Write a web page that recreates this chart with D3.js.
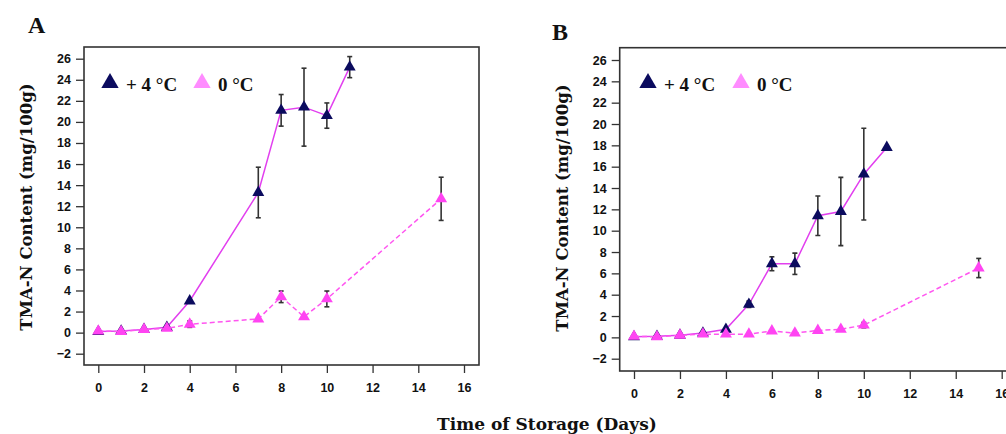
<!DOCTYPE html>
<html>
<head>
<meta charset="utf-8">
<script src="https://cdn.jsdelivr.net/npm/d3@7"></script>
<style>
  html, body { margin: 0; padding: 0; background: #fff; }
  svg { display: block; }
</style>
</head>
<body>
<svg id="chart" width="1006" height="434"></svg>
<script>
// ---------- data ----------
const xTicks = [0, 2, 4, 6, 8, 10, 12, 14, 16];
const yTicks = [-2, 0, 2, 4, 6, 8, 10, 12, 14, 16, 18, 20, 22, 24, 26];
const legendLabels = ["+ 4 °C", "0 °C"];

// Panel A
const daysA4 = [0, 1, 2, 3, 4, 7, 8, 9, 10, 11];
const valsA4 = [0.1, 0.15, 0.3, 0.5, 3.0, 13.3, 21.1, 21.4, 20.6, 25.2];
const errA4  = [0, 0, 0, 0, 0, 2.4, 1.5, 3.7, 1.2, 1.0];
const daysA0 = [0, 1, 2, 3, 4, 7, 8, 9, 10, 15];
const valsA0 = [0.15, 0.1, 0.3, 0.4, 0.8, 1.3, 3.4, 1.5, 3.2, 12.7];
const errA0  = [0, 0, 0, 0, 0.3, 0, 0.55, 0, 0.75, 2.05];

// Panel B
const daysB4 = [0, 1, 2, 3, 4, 5, 6, 7, 8, 9, 10, 11];
const valsB4 = [0.05, 0.1, 0.2, 0.4, 0.75, 3.1, 6.9, 6.9, 11.4, 11.8, 15.3, 17.8];
const errB4  = [0, 0, 0, 0, 0, 0.3, 0.65, 1.0, 1.85, 3.2, 4.3, 0];
const daysB0 = [0, 1, 2, 3, 4, 5, 6, 7, 8, 9, 10, 15];
const valsB0 = [0.1, 0.05, 0.2, 0.3, 0.3, 0.3, 0.6, 0.4, 0.65, 0.75, 1.15, 6.5];
const errB0  = [0, 0, 0, 0, 0, 0, 0, 0, 0, 0, 0.25, 0.9];

// ---------- styles ----------
const NAVY = "#0b0b5e";
const PINK = "#ff44f2";
const LEGEND_PINK = "#ff8cff";
const LINE4 = "#e23fef";
const LINE0 = "#ff55f0";
const ERR = "#333333";
const TITLE_FONT = "DejaVu Serif, Liberation Serif, serif";

const svg = d3.select("#chart");

function zip(days, vals, errs) {
  return days.map((d, i) => ({ x: d, y: vals[i], e: errs[i] }));
}

function drawPanel(cfg) {
  const g = svg.append("g");
  const x = d3.scaleLinear().domain([0, 16]).range([cfg.x0, cfg.x16]);
  const y = d3.scaleLinear().domain([-2, 26]).range([cfg.yM2, cfg.y26]);

  const clipId = "clip" + cfg.id;
  svg.append("clipPath").attr("id", clipId)
    .append("rect").attr("x", cfg.boxL).attr("y", cfg.boxT)
    .attr("width", cfg.boxR - cfg.boxL).attr("height", cfg.boxB - cfg.boxT);

  g.append("rect")
    .attr("x", cfg.boxL).attr("y", cfg.boxT)
    .attr("width", cfg.boxR - cfg.boxL).attr("height", cfg.boxB - cfg.boxT)
    .attr("fill", "none").attr("stroke", "#333").attr("stroke-width", 1.6);

  const yAxis = d3.axisLeft(y).tickValues(yTicks).tickSize(8).tickPadding(5).tickFormat(d3.format("d"));
  const ya = g.append("g").attr("transform", `translate(${cfg.boxL},0)`).call(yAxis);
  ya.select(".domain").remove();
  ya.selectAll("line").attr("stroke", "#333").attr("stroke-width", 1.3);
  ya.selectAll("text").attr("font-family", "Liberation Sans, Arial, sans-serif")
    .attr("font-weight", "bold").attr("font-size", 12.5).attr("fill", "#111");

  const xAxis = d3.axisBottom(x).tickValues(xTicks).tickSize(8).tickPadding(10).tickFormat(d3.format("d"));
  const xa = g.append("g").attr("transform", `translate(0,${cfg.boxB})`).call(xAxis);
  xa.select(".domain").remove();
  xa.selectAll("line").attr("stroke", "#333").attr("stroke-width", 1.3);
  xa.selectAll("text").attr("font-family", "Liberation Sans, Arial, sans-serif")
    .attr("font-weight", "bold").attr("font-size", 12.5).attr("fill", "#111");

  g.append("text")
    .attr("transform", `translate(${cfg.ytX},${cfg.ytY}) rotate(-90)`)
    .attr("text-anchor", "middle").attr("dominant-baseline", "central")
    .attr("font-family", TITLE_FONT)
    .attr("font-weight", "bold").attr("font-size", 16.5).attr("fill", "#111")
    .text("TMA-N Content (mg/100g)");

  g.append("text")
    .attr("x", cfg.letterX).attr("y", cfg.letterY)
    .attr("font-family", "Liberation Serif, Times New Roman, serif")
    .attr("font-weight", "bold").attr("font-size", 24).attr("fill", "#111")
    .text(cfg.letter);

  const plot = g.append("g").attr("clip-path", `url(#${clipId})`);
  const line = d3.line().x(d => x(d.x)).y(d => y(d.y));
  const tri = d3.symbol().type(d3.symbolTriangle).size(62);

  function series(data, color, lineColor, dashed) {
    plot.append("path").datum(data).attr("d", line)
      .attr("fill", "none").attr("stroke", lineColor).attr("stroke-width", 1.5)
      .attr("stroke-dasharray", dashed ? "5,3" : null);
    const eb = plot.append("g").selectAll("g").data(data.filter(d => d.e > 0)).join("g");
    eb.append("line").attr("x1", d => x(d.x)).attr("x2", d => x(d.x))
      .attr("y1", d => y(d.y - d.e)).attr("y2", d => y(d.y + d.e))
      .attr("stroke", ERR).attr("stroke-width", 1.6);
    eb.append("line").attr("x1", d => x(d.x) - 2.5).attr("x2", d => x(d.x) + 2.5)
      .attr("y1", d => y(d.y + d.e)).attr("y2", d => y(d.y + d.e))
      .attr("stroke", ERR).attr("stroke-width", 1.6);
    eb.append("line").attr("x1", d => x(d.x) - 2.5).attr("x2", d => x(d.x) + 2.5)
      .attr("y1", d => y(d.y - d.e)).attr("y2", d => y(d.y - d.e))
      .attr("stroke", ERR).attr("stroke-width", 1.6);
    plot.append("g").selectAll("path").data(data).join("path")
      .attr("d", tri)
      .attr("transform", d => `translate(${x(d.x)},${y(d.y)})`)
      .attr("fill", color);
  }
  series(cfg.s4, NAVY, LINE4, false);
  series(cfg.s0, PINK, LINE0, true);

  const legTri = d3.symbol().type(d3.symbolTriangle).size(130);
  const leg = g.append("g");
  const items = [
    { label: legendLabels[0], color: NAVY, tx: cfg.leg1 },
    { label: legendLabels[1], color: LEGEND_PINK, tx: cfg.leg2 }
  ];
  items.forEach(it => {
    leg.append("path").attr("d", legTri)
      .attr("transform", `translate(${it.tx},${cfg.legY})`).attr("fill", it.color);
    leg.append("text").attr("x", it.tx + 16).attr("y", cfg.legY + 1)
      .attr("dominant-baseline", "central")
      .attr("font-family", "Liberation Serif, Times New Roman, serif")
      .attr("font-weight", "bold").attr("font-size", 19).attr("fill", "#111")
      .text(it.label);
  });
}

drawPanel({
  id: "A", letter: "A", letterX: 28, letterY: 33,
  x0: 98.3, x16: 464, yM2: 353.7, y26: 58.7,
  boxL: 84, boxT: 47, boxR: 479, boxB: 365,
  ytX: 26, ytY: 207,
  leg1: 110, leg2: 202, legY: 83,
  s4: zip(daysA4, valsA4, errA4), s0: zip(daysA0, valsA0, errA0)
});

drawPanel({
  id: "B", letter: "B", letterX: 552, letterY: 40,
  x0: 634, x16: 1001.7, yM2: 358.7, y26: 60,
  boxL: 619.7, boxT: 47.7, boxR: 1012, boxB: 371,
  ytX: 562, ytY: 208,
  leg1: 648, leg2: 741, legY: 83,
  s4: zip(daysB4, valsB4, errB4), s0: zip(daysB0, valsB0, errB0)
});

svg.append("text")
  .attr("x", 547).attr("y", 424)
  .attr("text-anchor", "middle").attr("dominant-baseline", "central")
  .attr("font-family", TITLE_FONT)
  .attr("font-weight", "bold").attr("font-size", 17).attr("fill", "#111")
  .text("Time of Storage (Days)");
</script>
</body>
</html>
